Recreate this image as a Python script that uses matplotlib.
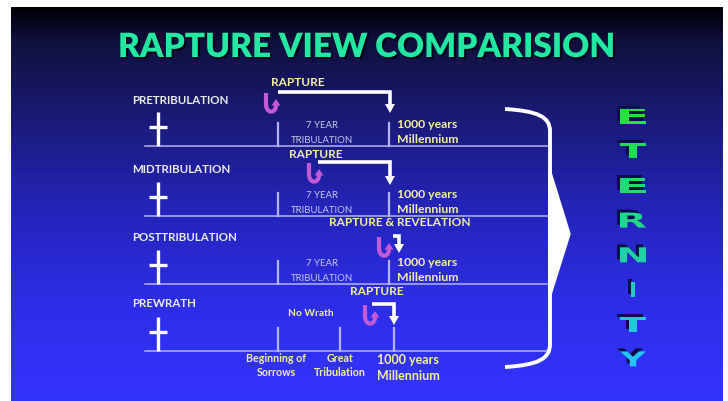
import numpy as np
import matplotlib
matplotlib.use("Agg")
import matplotlib.pyplot as plt
import matplotlib.patheffects as pe
from matplotlib.path import Path
from matplotlib.patches import PathPatch, Polygon
from matplotlib.textpath import TextPath
from matplotlib.font_manager import FontProperties
from matplotlib.transforms import Affine2D
from matplotlib.colors import to_rgb

# --- content ---
title = "RAPTURE VIEW COMPARISION"
views = ["PRETRIBULATION", "MIDTRIBULATION", "POSTTRIBULATION", "PREWRATH"]
rapture_labels = ["RAPTURE", "RAPTURE", "RAPTURE & REVELATION", "RAPTURE"]
tribulation_label = ["7 YEAR", "TRIBULATION"]
millennium_label = ["1000 years", "Millennium"]
prewrath_labels = [["Beginning of", "Sorrows"], ["Great", "Tribulation"]]
no_wrath = "No Wrath"
eternity = "ETERNITY"

# --- layout (pixel space of a 728x402 slide) ---
W, H = 728, 402
baselines = [147, 217, 285, 352]
line_x0, line_x1 = 145, 549
cross_x = 158
tick_a, tick_b, tick_c = 278, 389, 340
rapture_paths = [  # (hook x, arrow start x, arrow end x, arrow y, arrow tip y)
    (266, 278, 390, 93, 114),
    (309, 318, 390, 163, 186),
    (379, 393, 399, 237, 254),
    (365, 372, 394, 305, 326),
]
rapture_label_pos = [(298, 82), (316, 155), (400, 223), (377, 292)]

fig = plt.figure(figsize=(W / 100, H / 100), dpi=100)
fig.patch.set_facecolor("white")
ax = fig.add_axes([0, 0, 1, 1])
ax.set_xlim(0, W)
ax.set_ylim(H, 0)
ax.axis("off")

# background gradient
stops_y = [8, 30, 42, 100, 200, 300, 402]
stops_c = ["#000006", "#08082a", "#10103c", "#18186a", "#2323b4", "#2d2de6", "#3434ff"]
ys = np.arange(8, 402)
rgb = np.array([to_rgb(c) for c in stops_c])
grad = np.stack([np.interp(ys, stops_y, rgb[:, k]) for k in range(3)], axis=-1)
ax.imshow(grad[:, None, :], extent=(11, 723, 402, 8), aspect="auto", zorder=0)

# title with shadow
ax.text(367, 48, title, color="#22e8a2", fontsize=24, fontweight="heavy",
        family="Lato", ha="center", va="center", zorder=2,
        path_effects=[pe.withSimplePatchShadow(offset=(1.5, -1.5),
                                               shadow_rgbFace="#040418", alpha=1)])

txt_white = "#ececf4"
txt_yellow = "#f2f0a0"
txt_grey = "#c8c8e6"
line_col = "#b4b4ee"
small = dict(family="Lato", zorder=3)


def cross(y_base):
    ax.plot([cross_x, cross_x], [y_base - 34, y_base], color="white", lw=2.4,
            solid_capstyle="butt", zorder=3)
    ax.plot([cross_x - 9, cross_x + 9], [y_base - 19, y_base - 19], color="white",
            lw=2.4, solid_capstyle="butt", zorder=3)


def hook(x, y):
    # purple U-turn arrow pointing up
    t = np.linspace(0, 1, 30)
    p0, p1, p2, p3 = np.array([x, y + 12]), np.array([x, y + 22]), \
        np.array([x + 10, y + 22]), np.array([x + 10, y + 13])
    bez = ((1 - t) ** 3)[:, None] * p0 + (3 * (1 - t) ** 2 * t)[:, None] * p1 + \
        (3 * (1 - t) * t ** 2)[:, None] * p2 + (t ** 3)[:, None] * p3
    xs = np.concatenate([[x], bez[:, 0]])
    ys_ = np.concatenate([[y + 1], bez[:, 1]])
    ax.plot(xs, ys_, color="#c45ad6", lw=3, solid_capstyle="butt", zorder=4)
    ax.add_patch(Polygon([(x + 5.5, y + 13.5), (x + 14.5, y + 13.5), (x + 10, y + 7)],
                         closed=True, facecolor="#c45ad6", edgecolor="none", zorder=4))


def rapture_arrow(x0, x1, y, y_tip):
    ax.plot([x0, x1, x1], [y, y, y_tip - 7], color="white", lw=2.6,
            solid_joinstyle="miter", solid_capstyle="butt", zorder=4)
    ax.add_patch(Polygon([(x1 - 5, y_tip - 9), (x1 + 5, y_tip - 9), (x1, y_tip)],
                         closed=True, facecolor="white", edgecolor="none", zorder=4))


for i, name in enumerate(views):
    yb = baselines[i]
    ax.plot([line_x0, line_x1], [yb, yb], color=line_col, lw=1.1, zorder=2)
    cross(yb)
    ax.text(132, yb - 47 if i < 3 else yb - 48, name, color=txt_white, fontsize=8.3,
            fontweight="bold", ha="left", va="center", **small)
    hx, ax0, ax1, ay, atip = rapture_paths[i]
    hook(hx, ay)
    rapture_arrow(ax0, ax1, ay, atip)
    lx, ly = rapture_label_pos[i]
    ax.text(lx, ly, rapture_labels[i], color=txt_yellow, fontsize=8.6,
            fontweight="bold", ha="center", va="center", **small)

    if i < 3:
        for tx in (tick_a, tick_b):
            ax.plot([tx, tx], [yb - 23, yb], color=line_col, lw=1.6, zorder=2)
        ax.text(322, yb - 21, tribulation_label[0], color=txt_grey, fontsize=6.9,
                ha="center", va="center", **small)
        ax.text(322, yb - 6, tribulation_label[1], color=txt_grey, fontsize=6.9,
                ha="center", va="center", **small)
        ax.text(397, yb - 22, millennium_label[0], color=txt_yellow, fontsize=8.8,
                fontweight="bold", ha="left", va="center", **small)
        ax.text(397, yb - 7, millennium_label[1], color=txt_yellow, fontsize=8.8,
                fontweight="bold", ha="left", va="center", **small)
    else:
        for tx in (tick_a, tick_c, 394):
            ax.plot([tx, tx], [yb - 23, yb], color=line_col, lw=1.6, zorder=2)
        ax.text(311, yb - 38, no_wrath, color=txt_yellow, fontsize=7.3,
                fontweight="bold", ha="center", va="center", **small)
        for (l1, l2), cx in zip(prewrath_labels, (276, 340)):
            ax.text(cx, yb + 7, l1, color=txt_yellow, fontsize=7.7, fontweight="bold",
                    ha="center", va="center", **small)
            ax.text(cx, yb + 21, l2, color=txt_yellow, fontsize=7.7, fontweight="bold",
                    ha="center", va="center", **small)
        ax.text(408, yb + 8, millennium_label[0], color=txt_yellow, fontsize=9,
                fontweight="bold", ha="center", va="center", **small)
        ax.text(408, yb + 24, millennium_label[1], color=txt_yellow, fontsize=9,
                fontweight="bold", ha="center", va="center", **small)

# right bracket with pointer
br = Path([(505, 110), (538, 112), (550, 118), (550, 132), (550, 345),
           (550, 360), (538, 366), (505, 368)],
          [Path.MOVETO, Path.CURVE4, Path.CURVE4, Path.CURVE4, Path.LINETO,
           Path.CURVE4, Path.CURVE4, Path.CURVE4])
ax.add_patch(PathPatch(br, fill=False, edgecolor="white", lw=2.8, zorder=4))
ax.add_patch(Polygon([(549, 167), (570, 235), (549, 302)], closed=True,
                     facecolor="white", edgecolor="white", lw=1, zorder=4))

# vertical ETERNITY
fp = FontProperties(family="DejaVu Sans", weight="bold")
top_c = np.array(to_rgb("#22e23c"))
bot_c = np.array(to_rgb("#22c6f2"))
for k, ch in enumerate(eternity):
    cy = 117 + k * 34.7
    tp = TextPath((0, 0), ch, size=20, prop=fp)
    ext = tp.get_extents()
    sx = 26 / max(ext.width, 8) if ch != "I" else 1.0
    cx = 633
    tr = (Affine2D().translate(-ext.x0 - ext.width / 2, -ext.y0 - ext.height / 2)
          .scale(sx, -15 / ext.height).translate(cx, cy))
    p = tr.transform_path(tp)
    shadow = Affine2D().translate(-3, -3).transform_path(p)
    ax.add_patch(PathPatch(shadow, facecolor="#0c0c46", edgecolor="none", zorder=4))
    col = top_c + (bot_c - top_c) * k / (len(eternity) - 1)
    ax.add_patch(PathPatch(p, facecolor=col, edgecolor="none", zorder=5))

fig.savefig("out.png", dpi=100, facecolor="white")
